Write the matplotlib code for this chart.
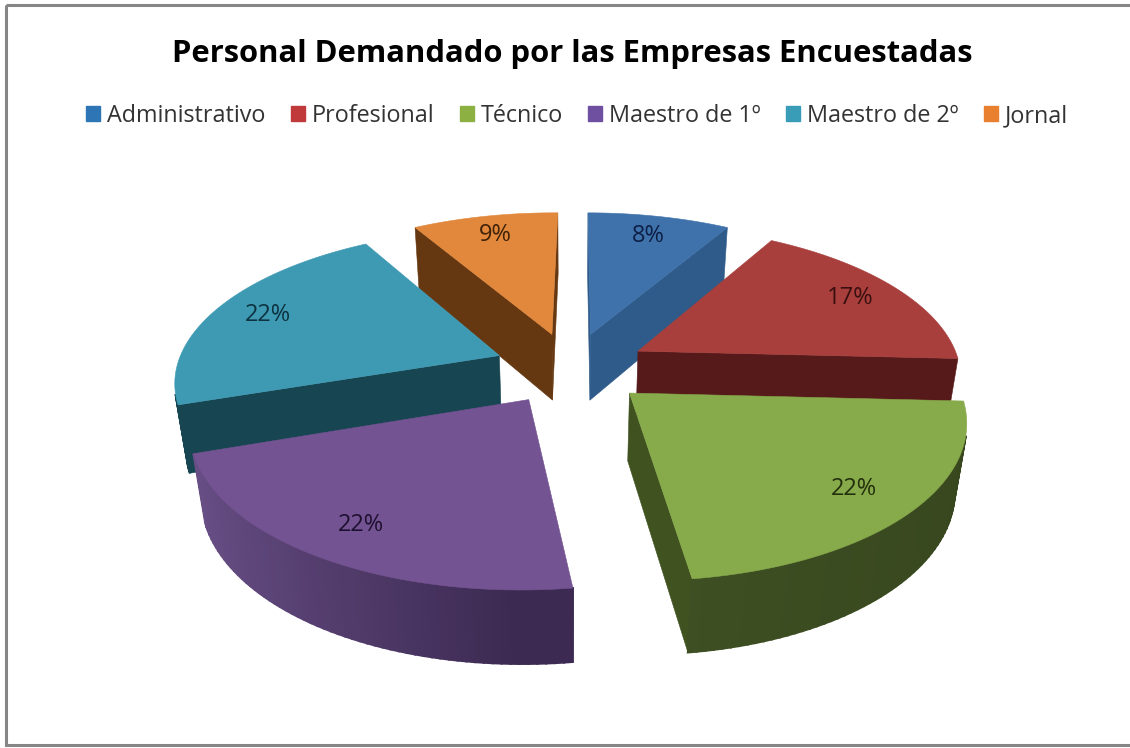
import numpy as np
import matplotlib
matplotlib.use('Agg')
import matplotlib.pyplot as plt
from matplotlib.colors import to_rgb
from matplotlib.patches import Patch, Rectangle

title = 'Personal Demandado por las Empresas Encuestadas'
categories = ['Administrativo', 'Profesional', 'Técnico', 'Maestro de 1º', 'Maestro de 2º', 'Jornal']
values = [8.4, 17.4, 22.1, 21.9, 21.8, 8.6]

top_colors = ['#3F72AB', '#A83F3C', '#87AA4B', '#735391', '#3E9AB3', '#E1883C']
legend_colors = ['#2E75B6', '#C0393B', '#8DB043', '#6F4FA0', '#3A9DB8', '#E8802F']
radial_colors = ['#2F5B8A', '#561A1A', '#3F5220', '#4A3560', '#174552', '#653812']
wall_light = ['#2F5B8A', '#561A1A', '#46592A', '#6A5088', '#174552', '#653812']
wall_dark = ['#2F5B8A', '#561A1A', '#38471E', '#3C2A52', '#174552', '#653812']
label_colors = ['#0C1F45', '#3A0F0F', '#22300C', '#1E1030', '#0D3340', '#3F2208']

# camera of the fake 3d pie
cx, cy = 571, 368
rx, ry = 323, 150
persp = 0.155
tilt = 0.03
height = 69
explode = 0.24
start = 0.0


def project(X, Y, Z=0.0):
    d = 1 + persp * Y + tilt * Z
    return cx + rx * X / d, cy - ry * Y / d + height * Z / d


def area(x, y):
    return 0.5 * np.sum(x * np.roll(y, -1) - np.roll(x, -1) * y)


fig = plt.figure(figsize=(11.3, 7.48), dpi=100)
ax = fig.add_axes([0, 0, 1, 1])
ax.set_xlim(0, 1130)
ax.set_ylim(748, 0)
ax.axis('off')

ax.add_patch(Rectangle((6, 5), 1140, 740, fill=False, ec='#868686', lw=2.2))

edges = np.radians(start + np.cumsum([0] + values) * 3.6)
mids = (edges[:-1] + edges[1:]) / 2


def face(xs, ys, zs, color, order, lw=0.4):
    px, py = project(np.asarray(xs), np.asarray(ys), np.asarray(zs))
    if area(px, py) > 0:  # y axis is flipped, so front faces are positive here
        ax.fill(px, py, color=color, lw=lw, zorder=order)


# far slices first
for rank, i in enumerate(np.argsort(-np.cos(mids))):
    ox = explode * np.sin(mids[i])
    oy = explode * np.cos(mids[i])
    t = np.linspace(edges[i], edges[i + 1], 60)
    ex = ox + np.sin(t)
    ey = oy + np.cos(t)
    base = rank * 10

    # the two flat cut faces
    a, b = t[0], t[-1]
    face([ox, ox, ox + np.sin(a), ox + np.sin(a)], [oy, oy, oy + np.cos(a), oy + np.cos(a)],
         [0, 1, 1, 0], radial_colors[i], base)
    face([ox + np.sin(b), ox + np.sin(b), ox, ox], [oy + np.cos(b), oy + np.cos(b), oy, oy],
         [0, 1, 1, 0], radial_colors[i], base)

    # outer wall in strips for the shading
    c0, c1 = np.array(to_rgb(wall_light[i])), np.array(to_rgb(wall_dark[i]))
    for j in range(len(t) - 1):
        f = np.clip((np.sin(t[j]) + 1) / 2, 0, 1) if i != 3 else 1 - np.clip(-np.sin(t[j]), 0, 1)
        face([ex[j], ex[j], ex[j + 1], ex[j + 1]], [ey[j], ey[j], ey[j + 1], ey[j + 1]],
             [0, 1, 1, 0], tuple(c0 + (c1 - c0) * f), base + 1, lw=1.5)

    # top
    tx, ty = project(np.r_[ox, ex], np.r_[oy, ey])
    ax.fill(tx, ty, color=top_colors[i], lw=0.4, zorder=base + 2)

    lx, ly = project(ox + 0.82 * np.sin(mids[i]), oy + 0.82 * np.cos(mids[i]))
    ax.text(lx, ly, f'{values[i]:.0f}%', ha='center', va='center', fontsize=17,
            family='Open Sans', color=label_colors[i], zorder=100)

ax.text(572, 54, title, ha='center', va='center', fontsize=22.3, family='Open Sans',
        fontweight='bold', color='black')

handles = [Patch(color=c) for c in legend_colors]
ax.legend(handles, categories, loc='center', bbox_to_anchor=(577, 116), bbox_transform=ax.transData,
          ncol=6, frameon=False, handlelength=0.6, handleheight=0.6, handletextpad=0.3,
          columnspacing=1.08, labelcolor='#333333', prop={'family': 'Open Sans', 'size': 16.8})

fig.savefig('out.png', dpi=100, facecolor='white')
